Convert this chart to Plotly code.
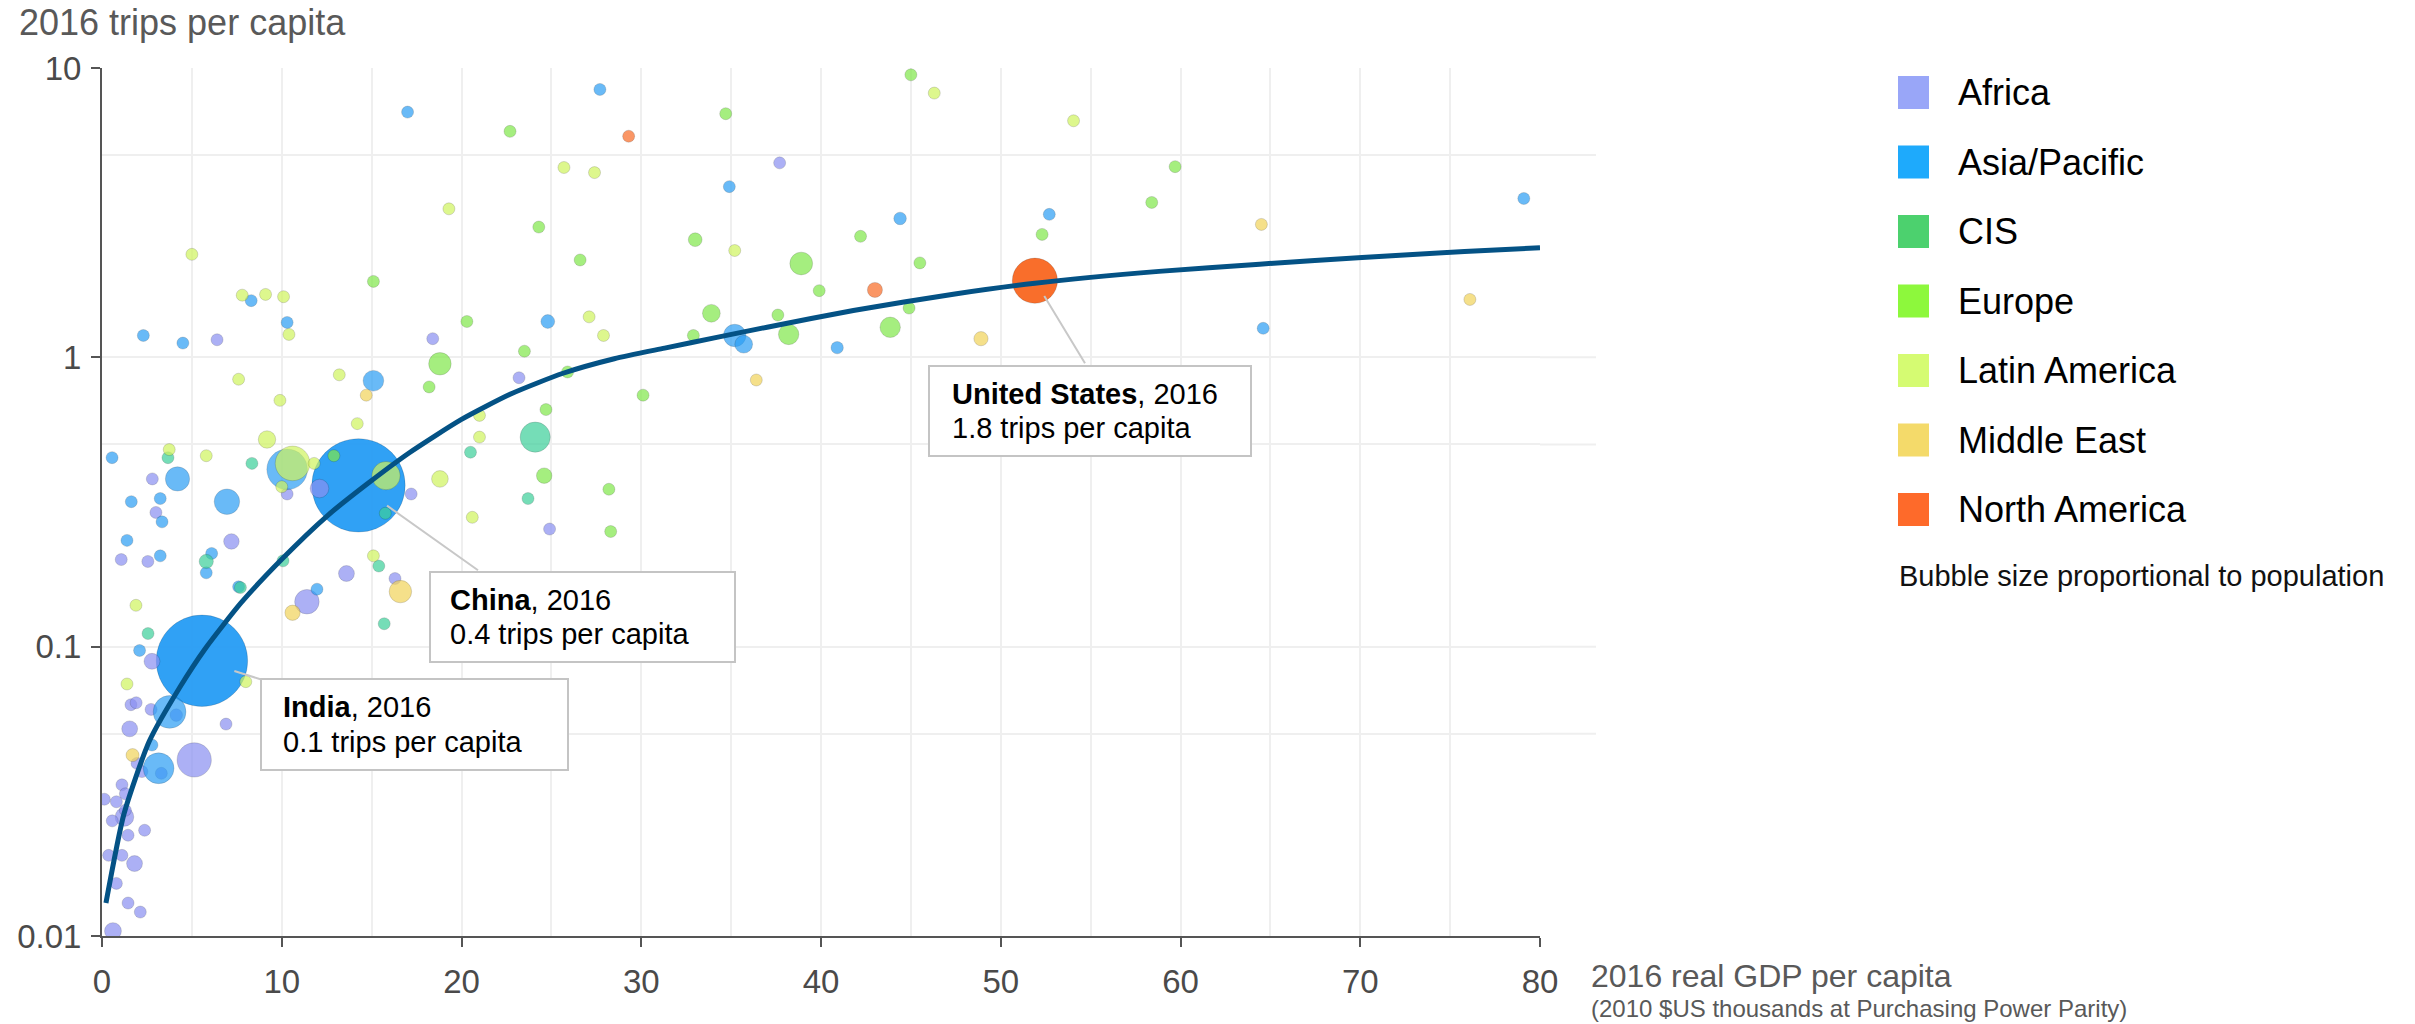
import math
import plotly.graph_objects as go

FONT = "Liberation Sans, Arial, Helvetica, sans-serif"

# ---------------- data ----------------
regions = ["Africa", "Asia/Pacific", "CIS", "Europe", "Latin America", "Middle East", "North America"]
region_colors = ["#99a6f8", "#1eaafc", "#4cd16e", "#8df83c", "#d5fb72", "#f4da6a", "#fe6a2a"]
bubble_colors = ["#8a90f2", "#2a9ef5", "#3ccf9a", "#7fe84a", "#d0f45e", "#f2d35a", "#f96a25"]

# x: 2016 real GDP per capita (2010 $US thousands PPP), y: 2016 trips per capita, pop: population (millions)
africa_gdp = [37.7, 6.4, 18.4, 23.2, 12.1, 10.3, 17.2, 24.9, 7.2, 2.8, 3.0, 1.07, 2.55, 13.6, 16.3, 11.4,
              2.78, 1.61, 1.90, 2.73, 4.13, 6.9, 1.54, 1.95, 2.22, 5.13, 1.11, 1.30, 0.13, 0.80, 1.25,
              1.30, 0.57, 2.37, 1.45, 0.37, 1.11, 1.81, 0.80, 1.45, 2.13, 0.61, 3.3]
africa_trips = [4.70, 1.15, 1.16, 0.85, 0.352, 0.337, 0.337, 0.255, 0.231, 0.38, 0.291, 0.200, 0.197, 0.179,
                0.172, 0.143, 0.089, 0.063, 0.064, 0.0607, 0.058, 0.054, 0.052, 0.0395, 0.037, 0.0406,
                0.0333, 0.031, 0.0297, 0.0291, 0.0258, 0.0272, 0.025, 0.0232, 0.0223, 0.019, 0.019,
                0.0178, 0.0152, 0.013, 0.0121, 0.0104, 0.0365]
africa_pop = [1, 1, 1, 1, 55, 4, 3, 2, 38, 5, 5, 4, 4, 40, 4, 95, 40, 8, 6, 9, 25, 14, 40, 8, 8, 186, 14, 8,
              6, 12, 55, 10, 6, 5, 22, 5, 7, 40, 7, 14, 9, 45, 6]

asia_gdp = [17.0, 27.7, 34.9, 8.3, 24.8, 10.3, 2.3, 4.5, 35.2, 35.7, 15.1, 44.4, 52.7, 79.1, 40.9, 64.6,
            0.56, 10.3, 4.2, 6.95, 3.24, 1.63, 3.34, 1.39, 3.24, 5.8, 6.1, 7.6, 11.96, 2.09, 3.76, 3.15, 2.78]
asia_trips = [7.04, 8.43, 3.89, 1.57, 1.33, 1.32, 1.19, 1.12, 1.19, 1.11, 0.83, 3.02, 3.12, 3.54, 1.08, 1.26,
              0.45, 0.41, 0.38, 0.317, 0.325, 0.317, 0.27, 0.233, 0.206, 0.18, 0.21, 0.161, 0.158, 0.097,
              0.0595, 0.038, 0.0457]
asia_pop = [1, 1, 2, 2, 30, 2, 2, 2, 80, 50, 68, 25, 2, 2, 24, 1, 2, 261, 93, 103, 4, 2, 3, 2, 4, 2, 1, 1,
            20, 14, 170, 150, 1]

cis_gdp = [24.1, 3.67, 8.34, 5.8, 15.76, 15.4, 15.7, 2.56, 23.7, 20.5, 10.07, 7.7]
cis_trips = [0.53, 0.45, 0.43, 0.197, 0.289, 0.19, 0.12, 0.111, 0.325, 0.47, 0.198, 0.16]
cis_pop = [144, 5, 5, 32, 4, 4, 4, 5, 18, 9, 5, 3]

europe_gdp = [45.0, 22.7, 34.7, 59.7, 58.4, 24.3, 33.0, 26.6, 15.1, 33.9, 37.6, 44.9, 42.2, 52.3, 45.5,
              39.9, 38.9, 38.2, 43.85, 20.3, 32.9, 23.5, 18.8, 18.2, 25.9, 30.1, 24.7, 24.6, 28.2, 28.3, 12.9]
europe_trips = [9.47, 6.04, 6.95, 4.56, 3.43, 2.82, 2.55, 2.17, 1.83, 1.42, 1.40, 1.48, 2.62, 2.66, 2.12,
                1.70, 2.11, 1.20, 1.27, 1.33, 1.19, 1.05, 0.95, 0.79, 0.89, 0.74, 0.66, 0.39, 0.35, 0.25, 0.457]
europe_pop = [1, 1, 1, 2, 2, 2, 30, 3, 2, 50, 4, 4, 4, 4, 6, 6, 82, 66, 66, 3, 3, 4, 80, 4, 3, 4, 5, 38,
              4, 3, 3]

latam_gdp = [46.3, 54.05, 25.7, 27.4, 19.3, 35.2, 5.0, 7.8, 9.1, 10.1, 27.1, 10.4, 27.9, 7.6, 13.2, 9.9,
             21.0, 14.2, 9.18, 21.0, 3.74, 5.8, 10.6, 11.8, 10.0, 15.8, 18.8, 20.6, 15.1, 1.89, 8.0, 1.39]
latam_trips = [8.19, 6.57, 4.53, 4.35, 3.26, 2.34, 2.27, 1.64, 1.65, 1.62, 1.38, 1.20, 1.19, 0.84, 0.87,
               0.71, 0.63, 0.59, 0.52, 0.53, 0.48, 0.457, 0.43, 0.43, 0.357, 0.39, 0.38, 0.28, 0.206,
               0.139, 0.0757, 0.0743]
latam_pop = [1, 1, 1, 1, 1, 2, 1, 1, 1, 1, 1, 2, 2, 2, 2, 2, 3, 3, 48, 8, 2, 3, 190, 14, 3, 127, 44, 4,
             16, 10, 5, 4]

mideast_gdp = [36.4, 14.7, 64.5, 76.1, 48.9, 16.6, 10.6, 1.70]
mideast_trips = [0.835, 0.74, 2.88, 1.585, 1.16, 0.155, 0.131, 0.0422]
mideast_pop = [2, 2, 2, 2, 32, 80, 37, 27]

namerica_gdp = [43.0, 29.3]
namerica_trips = [1.71, 5.81]
namerica_pop = [36, 1]

# labelled countries
highlight_names = ["China", "India", "United States"]
highlight_region = ["Asia/Pacific", "Asia/Pacific", "North America"]
highlight_gdp = [14.27, 5.56, 51.9]
highlight_trips = [0.361, 0.0894, 1.84]
highlight_pop = [1379, 1324, 323]

# fitted trend curve
trend_gdp = [0.22, 1.22, 2.63, 4.33, 5.75, 7.73, 10.0, 12.55, 14.8, 17.1, 20.0, 22.8, 25.65, 28.5, 31.3,
             34.2, 37.0, 41.8, 47.45, 51.9, 58.8, 64.4, 70.1, 75.8, 80.0]
trend_trips = [0.0130, 0.0264, 0.0471, 0.0724, 0.0986, 0.1416, 0.2005, 0.284, 0.367, 0.468, 0.610, 0.750,
               0.881, 0.989, 1.076, 1.172, 1.271, 1.452, 1.656, 1.803, 1.982, 2.099, 2.213, 2.323, 2.393]

x_ticks = [0, 10, 20, 30, 40, 50, 60, 70, 80]
y_ticks = [0.01, 0.1, 1, 10]
y_ticklabels = ["0.01", "0.1", "1", "10"]
y_minor = [0.05, 0.5, 5]

region_data = [
    (africa_gdp, africa_trips, africa_pop),
    (asia_gdp, asia_trips, asia_pop),
    (cis_gdp, cis_trips, cis_pop),
    (europe_gdp, europe_trips, europe_pop),
    (latam_gdp, latam_trips, latam_pop),
    (mideast_gdp, mideast_trips, mideast_pop),
    (namerica_gdp, namerica_trips, namerica_pop),
]

# ---------------- layout helpers (pixel -> paper) ----------------
W, H = 2415, 1024
L, R, T, B = 102, 1540, 68, 936


def fx(px):
    return (px - L) / (R - L)


def fy(py):
    return (B - py) / (B - T)


SIZEREF = 1379 / 66 ** 2
GRID = "#efefef"
AXIS = "#555555"

fig = go.Figure()

# highlighted big bubbles first (they sit underneath the small ones)
fig.add_trace(go.Scatter(
    x=highlight_gdp, y=highlight_trips, mode="markers", showlegend=False, hoverinfo="text",
    text=highlight_names,
    marker=dict(size=highlight_pop, sizemode="area", sizeref=SIZEREF, sizemin=6,
                color=[bubble_colors[regions.index(r)] for r in highlight_region], opacity=0.97,
                line=dict(width=1, color="rgba(0,0,0,0.15)")),
))

for name, color, (xs, ys, ps) in zip(regions, bubble_colors, region_data):
    fig.add_trace(go.Scatter(
        x=xs, y=ys, mode="markers", name=name, showlegend=False,
        marker=dict(size=ps, sizemode="area", sizeref=SIZEREF, sizemin=6, color=color, opacity=0.7,
                    line=dict(width=1, color="rgba(0,0,0,0.2)")),
    ))

fig.add_trace(go.Scatter(
    x=trend_gdp, y=trend_trips, mode="lines", showlegend=False, hoverinfo="skip",
    line=dict(color="#045285", width=5, shape="spline", smoothing=0.6),
))

shapes = []
annotations = []

# horizontal gridlines extend a little past the right end of the x axis
for v in [5, 1, 0.5, 0.1, 0.05]:
    yy = (math.log10(v) + 2) / 3
    shapes.append(dict(type="line", xref="paper", yref="paper", x0=1.0, x1=fx(1596), y0=yy, y1=yy,
                       line=dict(color=GRID, width=2), layer="below"))

# axis titles
annotations.append(dict(text="2016 trips per capita", xref="paper", yref="paper", x=fx(17), y=fy(23),
                        xanchor="left", yanchor="middle", showarrow=False,
                        font=dict(family=FONT, size=36, color="#595959")))
annotations.append(dict(text="2016 real GDP per capita", xref="paper", yref="paper", x=fx(1589), y=fy(976),
                        xanchor="left", yanchor="middle", showarrow=False,
                        font=dict(family=FONT, size=32, color="#595959")))
annotations.append(dict(text="(2010 $US thousands at Purchasing Power Parity)", xref="paper", yref="paper",
                        x=fx(1589), y=fy(1008), xanchor="left", yanchor="middle", showarrow=False,
                        font=dict(family=FONT, size=24, color="#595959")))

# legend (square swatches)
for i, (name, color) in enumerate(zip(regions, region_colors)):
    cy = 92.5 + i * 69.5
    shapes.append(dict(type="rect", xref="paper", yref="paper", x0=fx(1898), x1=fx(1929),
                       y0=fy(cy - 16.5), y1=fy(cy + 16.5), fillcolor=color, line=dict(width=0)))
    annotations.append(dict(text=name, xref="paper", yref="paper", x=fx(1956), y=fy(cy),
                            xanchor="left", yanchor="middle", showarrow=False,
                            font=dict(family=FONT, size=36, color="#000000")))
annotations.append(dict(text="Bubble size proportional to population", xref="paper", yref="paper",
                        x=fx(1897), y=fy(576), xanchor="left", yanchor="middle", showarrow=False,
                        font=dict(family=FONT, size=29, color="#111111")))

# callout boxes for highlighted countries: (box x0, x1, y0, y1, text x, leader ax, ay, standoff)
callouts = [
    (430, 735, 572, 662, 448, 121, 86, 35),
    (261, 568, 679, 770, 281, 60, 19, 34),
    (929, 1251, 366, 456, 950, 51, 84, 18),
]
for name, gx, ty, (bx0, bx1, by0, by1, tx, ax, ay, so) in zip(highlight_names, highlight_gdp,
                                                              highlight_trips, callouts):
    annotations.append(dict(x=gx, y=math.log10(ty), xref="x", yref="y", text="", showarrow=True,
                            arrowhead=0, arrowwidth=2, arrowcolor="#c8c8c8", ax=ax, ay=ay,
                            standoff=so))
    shapes.append(dict(type="rect", xref="paper", yref="paper", x0=fx(bx0), x1=fx(bx1),
                       y0=fy(by1), y1=fy(by0), fillcolor="white",
                       line=dict(color="#c4c4c4", width=2), layer="above"))
    cy = (by0 + by1) / 2
    annotations.append(dict(text=f"<b>{name}</b>, 2016", xref="paper", yref="paper", x=fx(tx),
                            y=fy(cy - 17), xanchor="left", yanchor="middle", showarrow=False,
                            font=dict(family=FONT, size=29, color="#000000")))
    annotations.append(dict(text=f"{ty:.1f} trips per capita", xref="paper", yref="paper", x=fx(tx),
                            y=fy(cy + 17), xanchor="left", yanchor="middle", showarrow=False,
                            font=dict(family=FONT, size=29, color="#000000")))

fig.update_layout(
    width=W, height=H,
    margin=dict(l=L, r=W - R, t=T, b=H - B, pad=0),
    plot_bgcolor="white", paper_bgcolor="white",
    showlegend=False,
    font=dict(family=FONT),
    shapes=shapes, annotations=annotations,
    xaxis=dict(range=[0, 80], tickmode="array", tickvals=x_ticks, ticks="outside", ticklen=9, tickwidth=2,
               tickcolor=AXIS, showline=True, linecolor=AXIS, linewidth=2, zeroline=False,
               showgrid=True, gridcolor=GRID, gridwidth=2,
               minor=dict(dtick=5, showgrid=True, gridcolor=GRID, gridwidth=2, ticks=""),
               tickfont=dict(family=FONT, size=33, color="#4a4a4a"), ticklabelstandoff=6),
    yaxis=dict(type="log", range=[-2, 1], tickmode="array", tickvals=y_ticks, ticktext=y_ticklabels,
               ticks="outside", ticklen=9, tickwidth=2, tickcolor=AXIS, showline=True, linecolor=AXIS,
               linewidth=2, zeroline=False, showgrid=True, gridcolor=GRID, gridwidth=2,
               minor=dict(tickvals=y_minor, showgrid=True, gridcolor=GRID, gridwidth=2, ticks=""),
               tickfont=dict(family=FONT, size=33, color="#4a4a4a"), ticklabelstandoff=3),
)

fig.write_html("out.html", config={"displayModeBar": False},
               post_script="document.body.style.margin='0px';")
